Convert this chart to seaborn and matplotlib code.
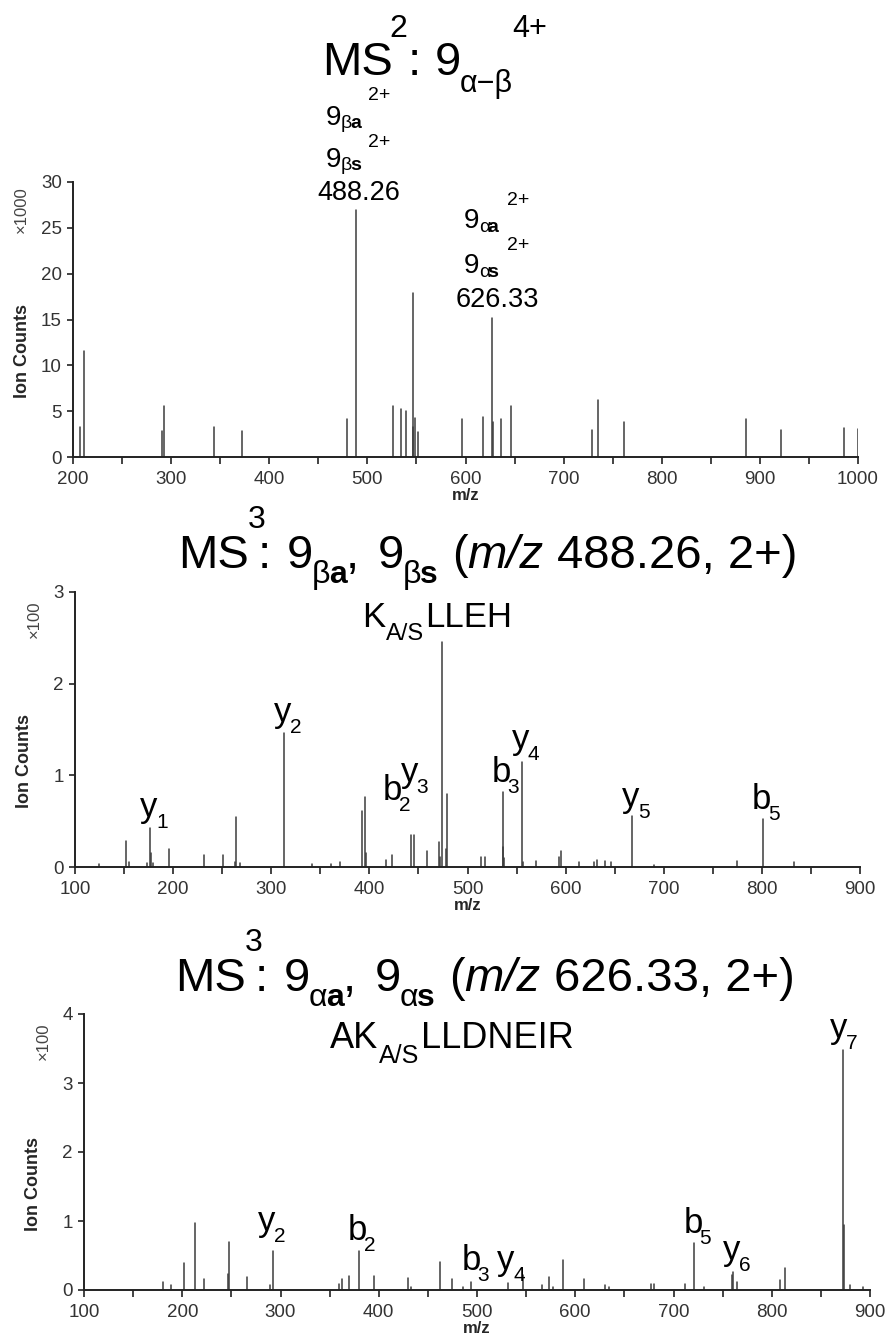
import numpy as np
import pandas as pd
import matplotlib
matplotlib.use("Agg")
import matplotlib.pyplot as plt
import seaborn as sns
from matplotlib.ticker import MultipleLocator

# ---------------------- #
# Peak lists (read off)  #
# ---------------------- #
# MS2 of 9 alpha-beta (4+), intensities x1000
mz_ms2 = [207.1, 211.2, 291.0, 292.7, 343.7, 372.6, 479.6, 488.3, 525.8, 534.6,
          539.4, 546.2, 546.9, 548.2, 551.9, 596.7, 617.6, 626.7, 627.7, 635.8,
          646.4, 728.9, 734.7, 761.8, 885.9, 921.2, 985.7, 999.7]
ic_ms2 = [3.3, 11.6, 2.8, 5.6, 3.3, 2.8, 4.1, 27.0, 5.6, 5.2,
          5.0, 3.3, 17.9, 4.3, 2.7, 4.1, 4.4, 15.2, 3.8, 4.2,
          5.6, 3.0, 6.2, 3.8, 4.2, 3.0, 3.2, 3.1]

# MS3 of m/z 488.26, intensities x100
mz_488 = [124.5, 152.0, 154.7, 173.4, 176.4, 177.5, 179.1, 196.1, 231.1, 251.2,
          263.5, 264.1, 268.2, 313.0, 341.2, 360.9, 369.7, 392.8, 395.2, 396.2,
          417.0, 423.4, 442.1, 445.2, 459.0, 470.6, 472.0, 473.7, 478.1, 479.4,
          513.4, 517.8, 535.9, 536.6, 537.5, 555.2, 556.5, 569.5, 593.2, 595.0,
          613.6, 628.9, 631.6, 640.1, 646.0, 667.6, 690.0, 774.3, 801.2, 833.0]
ic_488 = [0.03, 0.28, 0.06, 0.045, 0.43, 0.15, 0.04, 0.20, 0.135, 0.135,
          0.05, 0.545, 0.04, 1.46, 0.03, 0.03, 0.05, 0.61, 0.76, 0.15,
          0.08, 0.13, 0.35, 0.35, 0.175, 0.27, 0.11, 2.45, 0.20, 0.80,
          0.11, 0.11, 0.82, 0.22, 0.10, 1.15, 0.05, 0.07, 0.11, 0.17,
          0.05, 0.05, 0.08, 0.07, 0.055, 0.56, 0.02, 0.07, 0.52, 0.05]

# MS3 of m/z 626.33, intensities x100
mz_626 = [180.1, 188.2, 201.8, 212.6, 222.5, 246.2, 247.2, 265.6, 289.3, 292.4,
          359.2, 362.3, 369.7, 379.9, 395.2, 429.8, 432.8, 462.0, 475.0, 486.0,
          493.6, 531.9, 546.4, 566.2, 573.2, 577.3, 587.9, 609.0, 630.3, 634.7,
          677.2, 680.2, 711.8, 721.2, 731.4, 759.2, 760.2, 764.2, 808.4, 813.5,
          872.2, 873.8, 879.6, 892.5]
ic_626 = [0.12, 0.07, 0.39, 0.975, 0.16, 0.23, 0.70, 0.19, 0.07, 0.57,
          0.09, 0.155, 0.20, 0.57, 0.21, 0.17, 0.05, 0.40, 0.155, 0.05,
          0.11, 0.10, 0.22, 0.07, 0.19, 0.05, 0.435, 0.16, 0.07, 0.04,
          0.08, 0.08, 0.08, 0.68, 0.05, 0.22, 0.265, 0.12, 0.15, 0.32,
          3.48, 0.94, 0.07, 0.05]

# fragment labels: (ion, index, anchor m/z, anchor intensity, dx px, dy px)
labels_488 = [("y", "1", 176.4, 0.43, -10, -11), ("y", "2", 313.0, 1.46, -10, -11),
              ("b", "2", 442.1, 0.35, -28, -35), ("y", "3", 445.2, 0.35, -13, -53),
              ("b", "3", 535.9, 0.82, -11, -10), ("y", "4", 555.2, 1.15, -10, -13),
              ("y", "5", 667.6, 0.56, -10, -9), ("b", "5", 801.2, 0.52, -11, -10)]
labels_626 = [("y", "2", 292.4, 0.57, -15, -20), ("b", "2", 379.9, 0.57, -11, -11),
              ("b", "3", 493.6, 0.11, -9, -12), ("y", "4", 531.9, 0.10, -11, -13),
              ("b", "5", 721.2, 0.68, -11, -10), ("y", "6", 760.2, 0.265, -10, -12),
              ("y", "7", 872.2, 3.48, -13, -12)]

# ---------------------- #
# Style                  #
# ---------------------- #
sns.set_theme(style="ticks")
plt.rcParams['font.family'] = ['Liberation Sans', 'DejaVu Sans']
plt.rcParams['text.color'] = 'black'

W, H = 886, 1344
fig = plt.figure(figsize=(W / 100, H / 100), dpi=100)
fig.patch.set_facecolor('white')
renderer = fig.canvas.get_renderer()

ax1 = fig.add_axes([73 / W, 1 - 457 / H, 785 / W, 275 / H])
ax2 = fig.add_axes([75 / W, 1 - 867 / H, 785 / W, 275 / H])
ax3 = fig.add_axes([84 / W, 1 - 1290 / H, 786 / W, 276 / H])


def sticks(ax, mz, ic):
    n = len(mz)
    df = pd.DataFrame({
        'mz': np.repeat(mz, 2),
        'ic': np.column_stack([np.zeros(n), ic]).ravel(),
        'peak': np.repeat(np.arange(n), 2),
    })
    sns.lineplot(data=df, x='mz', y='ic', units='peak', estimator=None,
                 sort=False, color='#3c3c3c', lw=1.1, ax=ax)


def style(ax, xlim, ylim, ystep, mult, mult_x):
    ax.set_xlim(xlim)
    ax.set_ylim(ylim)
    ax.set_facecolor('none')
    ax.xaxis.set_major_locator(MultipleLocator(100))
    ax.xaxis.set_minor_locator(MultipleLocator(50))
    ax.yaxis.set_major_locator(MultipleLocator(ystep))
    ax.tick_params(axis='x', which='both', direction='out', length=5, width=1.2,
                   color='#222222', labelsize=13.5, labelcolor='#333333', pad=5)
    ax.tick_params(axis='y', direction='out', length=4, width=1.2,
                   color='#222222', labelsize=13.5, labelcolor='#333333', pad=4)
    sns.despine(ax=ax)
    for s in ['left', 'bottom']:
        ax.spines[s].set_linewidth(1.4)
        ax.spines[s].set_color('#222222')
    ax.set_xlabel('m/z', fontweight='bold', fontsize=12, labelpad=0)
    ax.set_ylabel('Ion Counts', fontweight='bold', fontsize=13)
    ax.yaxis.set_label_coords(-0.054, 0.384)
    ax.text(mult_x, 0.9, mult, rotation=90, transform=ax.transAxes,
            ha='center', va='center', fontsize=12, color='#444444')


def run(x, y, parts):
    # pieces of text laid out left to right, positions in pixels from top-left
    for s, size, dy, gap, kw in parts:
        x += gap
        t = fig.text(x / W, 1 - (y + dy) / H, s, fontsize=size,
                     ha='left', va='baseline', **kw)
        x = t.get_window_extent(renderer).x1


def ion_label(ax, ion, idx, mz, ic, dx, dy):
    ax.annotate(ion, (mz, ic), xytext=(dx, -dy), textcoords='offset pixels',
                fontsize=25, ha='left', va='baseline')
    ax.annotate(idx, (mz, ic), xytext=(dx + 16, -(dy + 11)),
                textcoords='offset pixels', fontsize=15, ha='left', va='baseline')


def stack(ax, mz, ic, parts):
    for s, dx, dy, size, ha, kw in parts:
        ax.annotate(s, (mz, ic), xytext=(dx, -dy), textcoords='offset pixels',
                    fontsize=size, ha=ha, va='baseline', **kw)


sticks(ax1, mz_ms2, ic_ms2)
sticks(ax2, mz_488, ic_488)
sticks(ax3, mz_626, ic_626)
style(ax1, (200, 1000), (0, 30), 5, '×1000', -0.066)
style(ax2, (100, 900), (0, 3), 1, '×100', -0.052)
style(ax3, (100, 900), (0, 4), 1, '×100', -0.052)

bold = {'fontweight': 'bold'}
# precursor labels on the MS2 spectrum
stack(ax1, 488.3, 27.0, [
    ("2+", 12, -109.5, 14, 'left', {}), ("9", -30, -84.5, 20, 'left', {}),
    ("β", -15, -81.5, 14, 'left', {}), ("a", -6, -81.5, 14, 'left', bold),
    ("2+", 12, -62.5, 14, 'left', {}), ("9", -30, -42.5, 20, 'left', {}),
    ("β", -15, -39.5, 14, 'left', {}), ("s", -6, -39.5, 14, 'left', bold),
    ("488.26", 2.5, -9.5, 19.5, 'center', {})])
stack(ax1, 626.7, 15.2, [
    ("2+", 15, -113, 14, 'left', {}), ("9", -28, -90, 20, 'left', {}),
    ("α", -13, -86, 14, 'left', {}), ("a", -4, -86, 14, 'left', bold),
    ("2+", 15, -68, 14, 'left', {}), ("9", -28, -45, 20, 'left', {}),
    ("α", -13, -41, 14, 'left', {}), ("s", -4, -41, 14, 'left', bold),
    ("626.33", 5.5, -11, 19.5, 'center', {})])

for lab in labels_488:
    ion_label(ax2, *lab)
for lab in labels_626:
    ion_label(ax3, *lab)

# titles
n = {}
run(322, 75, [("MS", 34, 0, 0, n), ("2", 23, -38, -3, n), (":", 34, 0, 0, n),
              ("9", 34, 0, 14, n), ("α−β", 22, 17, -1, n), ("4+", 22, -38, -1, n)])
for y0, x0, g, prec in [(568, 178, "β", "488.26, 2+)"), (991, 175, "α", "626.33, 2+)")]:
    run(x0, y0, [("MS", 34, 0, 0, n), ("3", 23, -40, -1, n), (":", 34, 0, -8, n),
                 ("9", 34, 0, 16, n), (g, 23, 15, -1, n), ("a", 23, 15, -1, bold),
                 (",", 34, 0, -1, n), ("9", 34, 0, 18, n), (g, 23, 15, -1, n),
                 ("s", 23, 15, -1, bold), ("(", 34, 0, 14, n),
                 ("m/z", 34, 0, 0, {'fontstyle': 'italic'}), (prec, 34, 0, 13, n)])
run(362, 627, [("K", 25, 0, 0, n), ("A/S", 17, 13, 1, n), ("LLEH", 25, 0, 1, n)])
run(330, 1048, [("AK", 26, 0, 0, n), ("A/S", 18, 15, 1, n), ("LLDNEIR", 26, 0, 1, n)])

fig.savefig("out.png", dpi=100, facecolor='white')
